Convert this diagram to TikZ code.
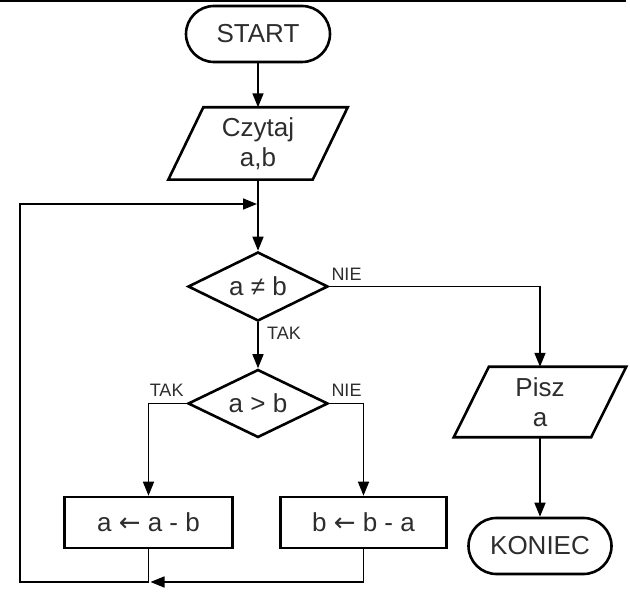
\documentclass[tikz,border=0pt]{standalone}
\usepackage{fontspec}
\setmainfont{Liberation Sans}
\newfontfamily\arrfont{DejaVu Sans}
\usetikzlibrary{shapes.geometric,arrows.meta}
\definecolor{txt}{RGB}{45,45,45}
\newcommand\drawpara[2]{\draw[shapeline] ([xshift=#2]#1.north west) -- ([xshift=#2]#1.north east) -- ([xshift=-#2]#1.south east) -- ([xshift=-#2]#1.south west) -- cycle;}
\newcommand\larr{{\arrfont ←}}
\begin{document}
\begin{tikzpicture}[x=1pt,y=-1pt,
  every node/.style={font=\fontsize{26}{30}\selectfont, text=txt},
  conn/.style={line width=1.6pt, draw=black},
  arr/.style={conn,-{Triangle[length=14pt,width=11pt]}},
  shapeline/.style={line width=2.6pt, line join=miter},
  term/.style={draw, shapeline, rectangle, rounded corners=28pt, minimum width=144pt, minimum height=56pt, inner sep=0pt},
  io/.style={rectangle, minimum width=144pt, minimum height=72pt, inner sep=0pt, align=center},
  dec/.style={draw, shapeline, diamond, aspect=2, minimum width=140pt, minimum height=69pt, inner sep=0pt},
  proc/.style={draw, shapeline, rectangle, minimum width=168pt, minimum height=51pt, inner sep=0pt},
  lbl/.style={font=\fontsize{18}{20}\selectfont, inner sep=0pt}
]
\useasboundingbox (0,0) rectangle (630,596);
\draw[line width=2.4pt] (0,1.2) -- (626,1.2);

\node[term] (start) at (258,34) {START};
\node[io] (czytaj) at (258,143.5) {Czytaj\\a,b};
\drawpara{czytaj}{17.5pt}
\node[dec] (d1) at (258,286.5) {a ≠ b};
\node[dec, minimum height=68pt] (d2) at (258,403.5) {a > b};
\node[proc] (pa) at (148.5,522.5) {a \larr\ a - b};
\node[proc, minimum width=166pt] (pb) at (363.5,522.5) {b \larr\ b - a};
\node[io, minimum width=137pt, minimum height=70pt] (pisz) at (540,402) {Pisz\\a};
\drawpara{pisz}{17.5pt}
\node[term, minimum width=143pt] (koniec) at (540,546) {KONIEC};

\coordinate (m) at (258,204);
\coordinate (j) at (148.5,582);
\coordinate (lp) at (20,582);

\draw[arr] (start) -- (czytaj);
\draw[arr] (czytaj) -- (d1);
\draw[arr] (d1.east) -| (pisz);
\draw[arr] (d1) -- (d2);
\draw[arr] (d2.west) -| (pa);
\draw[arr] (d2.east) -| (pb);
\draw[arr] (pisz) -- (koniec);
\draw[arr, shorten >=2pt] (pb.south) |- (j);
\draw[arr, shorten >=1pt] (pa.south) |- (lp) |- (m);

\node[lbl, anchor=south west] at ([xshift=2pt,yshift=6pt]d1.east) {NIE};
\node[lbl, anchor=north west] at ([xshift=9pt,yshift=-5pt]d1.south) {TAK};
\node[lbl, anchor=south east] at ([xshift=-3pt,yshift=6.5pt]d2.west) {TAK};
\node[lbl, anchor=south west] at ([xshift=2pt,yshift=6.5pt]d2.east) {NIE};
\end{tikzpicture}
\end{document}
